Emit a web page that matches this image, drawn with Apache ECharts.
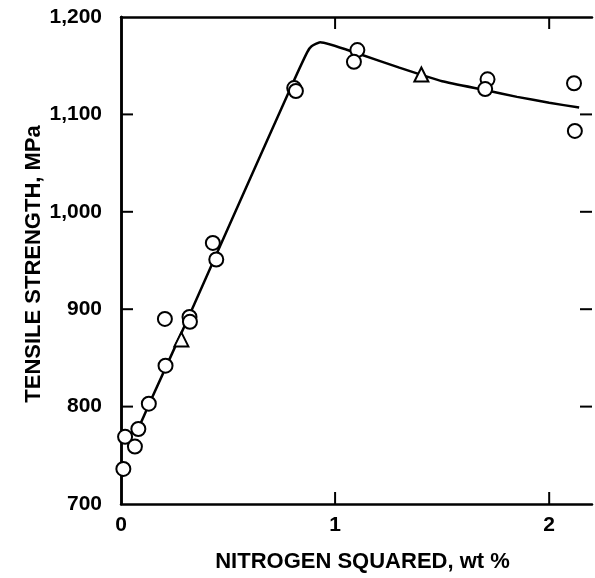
<!DOCTYPE html>
<html><head><meta charset="utf-8">
<script src="https://cdn.jsdelivr.net/npm/echarts@6/dist/echarts.min.js"></script>
<style>html,body{margin:0;padding:0;background:#fff}#c{width:595px;height:578px}</style>
</head><body><div id="c"></div>
<script>
const X_MIN = 0, X_MAX = 2.2, Y_MIN = 700, Y_MAX = 1200;
const xTicks = [0, 1, 2];
const xTickLabels = ['0', '1', '2'];
const yTicks = [700, 800, 900, 1000, 1100, 1200];
const yTickLabels = ['700', '800', '900', '1,000', '1,100', '1,200'];
const xTitle = 'NITROGEN SQUARED, wt %';
const yTitle = 'TENSILE STRENGTH, MPa';

const circles = [
  [0.011, 736], [0.019, 769], [0.065, 759], [0.081, 777], [0.13, 803],
  [0.208, 842], [0.205, 890], [0.32, 892], [0.322, 887],
  [0.429, 968], [0.445, 951], [0.809, 1127], [0.817, 1124],
  [1.104, 1166], [1.088, 1154], [1.712, 1136], [1.701, 1126],
  [2.116, 1132], [2.12, 1083]
];
const triangles = [[0.282, 869], [1.403, 1141]];
const fitLine = [
  [0.02, 768], [0.08, 778], [0.13, 802], [0.32, 894], [0.56, 1013],
  [0.80, 1131], [0.87, 1164], [0.89, 1170], [0.93, 1174], [1.1, 1163],
  [1.3, 1148], [1.5, 1134], [1.7, 1125], [1.85, 1118], [2.0, 1112], [2.14, 1107]
];

const FONT = 'Liberation Sans';
const TICK_LEN = 12;
const chart = echarts.init(document.getElementById('c'));
const mkLine = () => ({show: true, lineStyle: {color: '#000', width: 2.5}});
const noTick = () => ({show: false});
const lbl = (ticks, labels) => v => {
  const i = ticks.findIndex(t => Math.abs(t - v) < 1e-9);
  return i >= 0 ? labels[i] : '';
};
chart.setOption({
  animation: false,
  grid: {left: 121, top: 17, right: 3, bottom: 71},
  xAxis: [{
    type: 'value', min: X_MIN, max: X_MAX, interval: 1, position: 'bottom',
    axisLine: mkLine(), splitLine: {show: false}, axisTick: noTick(),
    axisLabel: {margin: 11, color: '#000', fontFamily: FONT, fontWeight: 'bold', fontSize: 21,
      formatter: lbl(xTicks, xTickLabels)},
    name: xTitle, nameLocation: 'middle', nameGap: 47,
    nameTextStyle: {color: '#000', fontFamily: FONT, fontWeight: 'bold', fontSize: 22, padding: [0, 0, 0, 12]}
  }, {
    type: 'value', min: X_MIN, max: X_MAX, interval: 1, position: 'top',
    axisLine: mkLine(), splitLine: {show: false}, axisTick: noTick(),
    axisLabel: {show: false}
  }],
  yAxis: [{
    type: 'value', min: Y_MIN, max: Y_MAX, interval: 100, position: 'left',
    axisLine: mkLine(), splitLine: {show: false}, axisTick: noTick(),
    axisLabel: {margin: 19, color: '#000', fontFamily: FONT, fontWeight: 'bold', fontSize: 21,
      formatter: lbl(yTicks, yTickLabels)}
  }, {
    type: 'value', min: Y_MIN, max: Y_MAX, interval: 100, position: 'right',
    axisLine: mkLine(), splitLine: {show: false}, axisTick: noTick(),
    axisLabel: {show: false}
  }],
  series: [{
    type: 'line', data: fitLine, showSymbol: false, smooth: 0.15,
    lineStyle: {color: '#000', width: 2.5}, z: 2
  }, {
    type: 'scatter', data: circles, symbol: 'circle', symbolSize: 14,
    itemStyle: {color: '#fff', borderColor: '#000', borderWidth: 2, opacity: 1}, z: 3
  }, {
    type: 'scatter', data: triangles, symbol: 'triangle', symbolSize: 14,
    itemStyle: {color: '#fff', borderColor: '#000', borderWidth: 2, opacity: 1}, z: 3
  }]
});

// inward ticks on all four frame sides, positioned through the chart's own scales
const innerX = xTicks.filter(v => v > X_MIN && v < X_MAX);
const innerY = yTicks.filter(v => v > Y_MIN && v < Y_MAX);
const px = p => chart.convertToPixel({gridIndex: 0}, p);
const tickEls = [];
function addTick(p, dx, dy) {
  tickEls.push({
    type: 'line', z: 100, silent: true,
    shape: {x1: p[0], y1: p[1], x2: p[0] + dx * TICK_LEN, y2: p[1] + dy * TICK_LEN},
    style: {stroke: '#000', lineWidth: 2}
  });
}
innerX.forEach(v => { addTick(px([v, Y_MIN]), 0, -1); addTick(px([v, Y_MAX]), 0, 1); });
innerY.forEach(v => { addTick(px([X_MIN, v]), 1, 0); addTick(px([X_MAX, v]), -1, 0); });
tickEls.push({
  type: 'text', x: 34, y: 264, rotation: Math.PI / 2, z: 100,
  style: {text: yTitle, fill: '#000', font: 'bold 22px "Liberation Sans"', align: 'center', verticalAlign: 'middle'}
});
chart.setOption({graphic: tickEls});
</script></body></html>
